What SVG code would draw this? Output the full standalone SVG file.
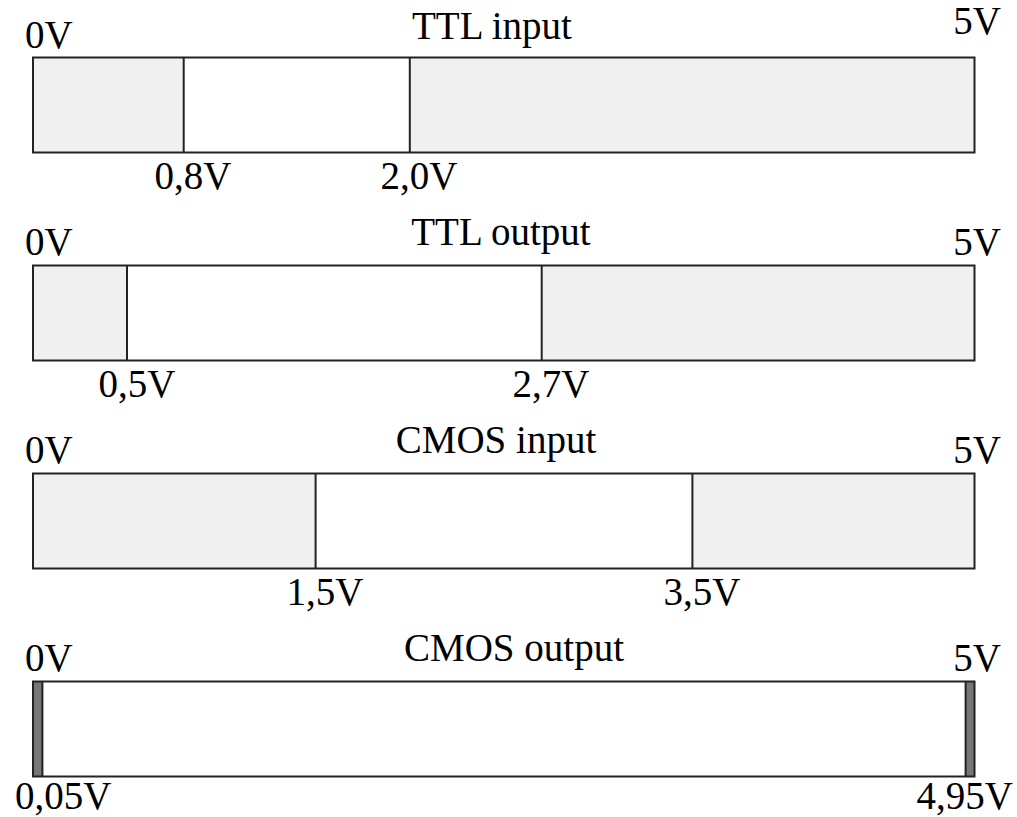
<svg xmlns="http://www.w3.org/2000/svg" width="1017" height="817" viewBox="0 0 1017 817">
<style>
text{font-family:"Liberation Serif","Times New Roman",serif;font-size:39px;fill:#000}
.m{text-anchor:middle}
.e{text-anchor:end}
.g{fill:#f0f0f0}
.w{fill:#fff}
.d{fill:#777}
.b{fill:none;stroke:#222;stroke-width:2}
.l{stroke:#222;stroke-width:2}
</style>
<rect width="1017" height="817" fill="#fff"/>
<g id="ttl-input">
<rect class="g" x="33" y="57.5" width="150.7" height="95"/>
<rect class="w" x="183.7" y="57.5" width="226.1" height="95"/>
<rect class="g" x="409.8" y="57.5" width="564.7" height="95"/>
<rect class="b" x="33" y="57.5" width="941.5" height="95"/>
<line class="l" x1="183.7" y1="57.5" x2="183.7" y2="152.5"/>
<line class="l" x1="409.8" y1="57.5" x2="409.8" y2="152.5"/>
<text x="25" y="48">0V</text>
<text class="e" x="1001" y="34">5V</text>
<text class="m" x="492" y="39">TTL input</text>
<text class="m" x="193" y="189">0,8V</text>
<text class="m" x="419" y="189">2,0V</text>
</g>
<g id="ttl-output">
<rect class="g" x="33" y="265.5" width="94" height="95"/>
<rect class="w" x="127" y="265.5" width="414.7" height="95"/>
<rect class="g" x="541.7" y="265.5" width="432.8" height="95"/>
<rect class="b" x="33" y="265.5" width="941.5" height="95"/>
<line class="l" x1="127" y1="265.5" x2="127" y2="360.5"/>
<line class="l" x1="541.7" y1="265.5" x2="541.7" y2="360.5"/>
<text x="25" y="255">0V</text>
<text class="e" x="1001" y="255">5V</text>
<text class="m" x="501" y="245">TTL output</text>
<text class="m" x="137" y="397">0,5V</text>
<text class="m" x="551" y="397">2,7V</text>
</g>
<g id="cmos-input">
<rect class="g" x="33" y="473.5" width="282.6" height="95"/>
<rect class="w" x="315.6" y="473.5" width="376.8" height="95"/>
<rect class="g" x="692.4" y="473.5" width="282.1" height="95"/>
<rect class="b" x="33" y="473.5" width="941.5" height="95"/>
<line class="l" x1="315.6" y1="473.5" x2="315.6" y2="568.5"/>
<line class="l" x1="692.4" y1="473.5" x2="692.4" y2="568.5"/>
<text x="25" y="463">0V</text>
<text class="e" x="1001" y="463">5V</text>
<text class="m" x="496" y="453">CMOS input</text>
<text class="m" x="325" y="605">1,5V</text>
<text class="m" x="702" y="605">3,5V</text>
</g>
<g id="cmos-output">
<rect class="w" x="33" y="681.5" width="941.5" height="95"/>
<rect class="d" x="33" y="681.5" width="9.4" height="95"/>
<rect class="d" x="965.6" y="681.5" width="8.9" height="95"/>
<rect class="b" x="33" y="681.5" width="941.5" height="95"/>
<line class="l" x1="42.4" y1="681.5" x2="42.4" y2="776.5"/>
<line class="l" x1="965.6" y1="681.5" x2="965.6" y2="776.5"/>
<text x="25" y="671">0V</text>
<text class="e" x="1001" y="671">5V</text>
<text class="m" x="514" y="661">CMOS output</text>
<text x="15" y="809">0,05V</text>
<text class="e" x="1013" y="809">4,95V</text>
</g>
</svg>
